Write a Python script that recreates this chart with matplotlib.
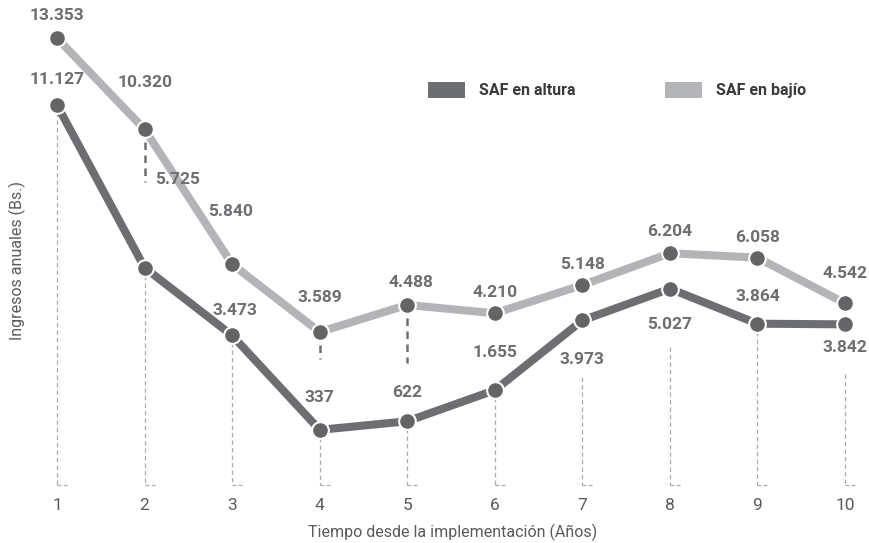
import matplotlib
matplotlib.use('Agg')
import matplotlib.pyplot as plt
from matplotlib.patches import Patch

# data (Bs. per year)
years = [1, 2, 3, 4, 5, 6, 7, 8, 9, 10]
altura = [11127, 5725, 3473, 337, 622, 1655, 3973, 5027, 3864, 3842]
bajio = [13353, 10320, 5840, 3589, 4488, 4210, 5148, 6204, 6058, 4542]
altura_lbl = ['11.127', '5.725', '3.473', '337', '622', '1.655', '3.973', '5.027', '3.864', '3.842']
bajio_lbl = ['13.353', '10.320', '5.840', '3.589', '4.488', '4.210', '5.148', '6.204', '6.058', '4.542']

# label offsets in pixels (dx, dy)
altura_off = [(0, 26), (33, 88), (3, 25), (0, 32), (0, 29), (0, 38), (0, -39), (0, -36), (0, 27), (0, -23)]
bajio_off = [(0, 23), (0, 47), (-2, 53), (0, 34), (4, 22), (0, 21), (0, 21), (0, 22), (0, 20), (0, 30)]
# where the grey guide line starts below the dark point (pixels)
guide_gap = [0, 0, 0, 0, 0, 0, 57, 58, 0, 50]
# short dark dashes below some light points: (year, length in px)
leaders = [(2, 53), (4, 27), (5, 58)]

DARK = '#6d6e71'
LIGHT = '#b2b4b7'
MARK = '#636466'
TXT = '#6d6e71'

plt.rcParams['font.family'] = ['Roboto', 'DejaVu Sans']

fig = plt.figure(figsize=(8.7, 5.43), dpi=100)
ax = fig.add_axes([17 / 870, 58 / 543, 848 / 870, 485 / 543])
ax.set_xlim(0.543, 10.228)
ax.set_ylim(-1495, 14618)
for s in ax.spines.values():
    s.set_visible(False)
ax.set_yticks([])
ax.set_xticks(years)
ax.set_xticklabels([str(y) for y in years], fontsize=12.5, color='#5a5a5a')
ax.tick_params(axis='x', length=0, pad=9)

px_per_unit = 485 / (14618 + 1495)
base = -1495

# grey dotted guides with a short foot at the bottom
for x, v, g in zip(years, altura, guide_gap):
    top = v - g / px_per_unit
    ax.plot([x, x], [top, base], color='#ababab', lw=0.9,
            ls=(0, (3.5, 2.5)), clip_on=False, zorder=1)
    ax.plot([x, x + 0.12], [base, base], color='#ababab', lw=0.9,
            ls=(0, (3, 2)), clip_on=False, zorder=1)

# dark short dashes
for x, L in leaders:
    v = bajio[years.index(x)]
    ax.plot([x, x], [v, v - L / px_per_unit], color=DARK, lw=1.8,
            ls=(0, (3, 2.2)), zorder=2)

ax.plot(years, altura, color=DARK, lw=5.8, zorder=3, solid_capstyle='butt')
ax.plot(years, bajio, color=LIGHT, lw=5.8, zorder=3, solid_capstyle='butt')
ax.plot(years, altura, 'o', color=MARK, ms=12, mec='white', mew=1.5, zorder=4)
ax.plot(years, bajio, 'o', color=MARK, ms=12, mec='white', mew=1.5, zorder=4)

for x, v, t, (dx, dy) in zip(years, altura, altura_lbl, altura_off):
    ax.annotate(t, (x, v), xytext=(dx, dy), textcoords='offset pixels',
                ha='center', va='center', fontsize=12.5, fontweight='bold', color=TXT)
for x, v, t, (dx, dy) in zip(years, bajio, bajio_lbl, bajio_off):
    ax.annotate(t, (x, v), xytext=(dx, dy), textcoords='offset pixels',
                ha='center', va='center', fontsize=12.5, fontweight='bold', color=TXT)

handles = [Patch(facecolor=DARK, label='SAF en altura'),
           Patch(facecolor=LIGHT, label='SAF en bajío')]
leg = fig.legend(handles=handles, loc='center', bbox_to_anchor=(617 / 870, 1 - 90 / 543),
                 ncol=2, frameon=False, handlelength=2.3, handleheight=1.15,
                 handletextpad=0.9, columnspacing=5.6,
                 prop={'weight': 'bold', 'size': 11.5})
for t in leg.get_texts():
    t.set_color('#3a3a3a')

fig.text(453 / 870, 1 - 532 / 543, 'Tiempo desde la implementación (Años)',
         ha='center', va='center', fontsize=11.5, color='#5a5a5a')
fig.text(17 / 870, 1 - 260 / 543, 'Ingresos anuales (Bs.)', rotation=90,
         ha='center', va='center', fontsize=11.5, color='#5a5a5a')

fig.savefig('out.png', dpi=100)
